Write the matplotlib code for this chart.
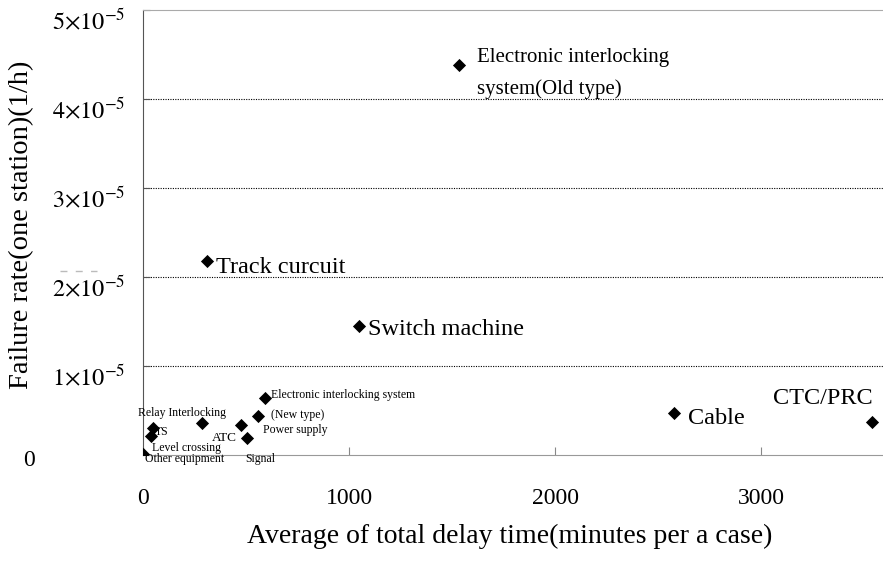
import matplotlib
matplotlib.use("Agg")
import matplotlib.pyplot as plt
from matplotlib.lines import Line2D
from matplotlib.transforms import ScaledTranslation

plt.rcParams["font.family"] = ["Liberation Serif", "DejaVu Serif"]
plt.rcParams["mathtext.fontset"] = "stix"

# Equipment categories: average delay time (min/case) and failure rate (1/h, one station)
names = [
    "Electronic interlocking\nsystem(Old type)",
    "Track curcuit",
    "Switch machine",
    "Cable",
    "CTC/PRC",
    "Electronic interlocking system\n(New type)",
    "Power supply",
    "ATC",
    "Signal",
    "Relay Interlocking",
    "TS",
    "Level crossing",
    "Other equipment",
]
delay = [1532, 310, 1047, 2574, 3538, 591, 557, 475, 504, 286, 48, 39, 0]
rate = [4.38e-5, 2.18e-5, 1.45e-5, 0.47e-5, 0.37e-5, 0.64e-5, 0.44e-5,
        0.34e-5, 0.19e-5, 0.36e-5, 0.30e-5, 0.21e-5, 0.01e-5]

# label placement: (dx px, dy px, size, ha, linespacing)
label_style = [
    (18, -8, 15, "left", 1.85),
    (9, -7, 17.5, "left", 1.2),
    (9, -4, 17.5, "left", 1.2),
    (14, -5, 17.5, "left", 1.2),
    (0, 24, 17.5, "right", 1.2),
    (6, -7, 8.5, "left", 1.8),
    (5, -14, 8.5, "left", 1.2),
    (-4, -13, 9.5, "right", 1.2),
    (-2, -21, 8.5, "left", 1.2),
    (-64, 10, 8.5, "left", 1.2),
    (2, -4, 8.5, "left", 1.2),
    (1, -12, 8.5, "left", 1.2),
    (2, -5, 8.5, "left", 1.2),
]

y_ticks = [0, 1e-5, 2e-5, 3e-5, 4e-5, 5e-5]
y_tick_labels = ["", r"$1{\times}10^{-5}$", r"$2{\times}10^{-5}$", r"$3{\times}10^{-5}$",
                 r"$4{\times}10^{-5}$", r"$5{\times}10^{-5}$"]
x_ticks = [0, 1000, 2000, 3000]
x_tick_labels = ["0", "1000", "2000", "3000"]

W, H = 883, 561
fig = plt.figure(figsize=(W / 100, H / 100), dpi=100)
ax = fig.add_axes([143 / W, (H - 455) / H, (W - 143) / W, 445 / H])

ax.set_xlim(0, 3590)
ax.set_ylim(0, 5e-5)

for yv in y_ticks[1:-1]:
    ax.axhline(yv, color="black", lw=0.8, ls=(0, (1, 1.2)), zorder=1)

ax.scatter(delay, rate, marker="D", s=45, color="black", zorder=3, linewidths=0)

for n, x, y, (dx, dy, fs, ha, ls) in zip(names, delay, rate, label_style):
    ax.annotate(n, (x, y), xytext=(dx, dy), textcoords="offset pixels",
                fontsize=fs, ha=ha, va="center", linespacing=ls,
                annotation_clip=False)

ax.set_yticks(y_ticks)
ax.set_yticklabels(y_tick_labels, fontsize=17.5)
ax.set_xticks(x_ticks)
ax.set_xticklabels(x_tick_labels, fontsize=17)
ax.tick_params(axis="y", direction="in", length=5, pad=13, color="#555555")
ax.tick_params(axis="x", direction="in", length=6, pad=24, color="#888888")

shift = ScaledTranslation(0, -8 / 100, fig.dpi_scale_trans)
for lab in ax.get_yticklabels():
    lab.set_transform(lab.get_transform() + shift)

ax.spines["left"].set_color("#555555")
ax.spines["bottom"].set_color("#999999")
ax.spines["top"].set_color("#aaaaaa")
ax.spines["right"].set_visible(False)

ax.set_xlabel("Average of total delay time(minutes per a case)", fontsize=20)
ax.xaxis.set_label_coords((510 - 143) / (W - 143), (455 - 524) / 445)
ax.set_ylabel("Failure rate(one station)(1/h)", fontsize=20.5)
ax.yaxis.set_label_coords(-(143 - 34) / (W - 143), (455 - 225) / 445)

fig.text(29 / W, 1 - 460 / H, "0", fontsize=17, ha="center", va="center")
fig.add_artist(Line2D([60 / W, 97 / W], [1 - 271 / H, 1 - 271 / H], color="#bbbbbb",
                      lw=1, ls=(0, (5, 6))))

fig.savefig("out.png", dpi=100, facecolor="white")
